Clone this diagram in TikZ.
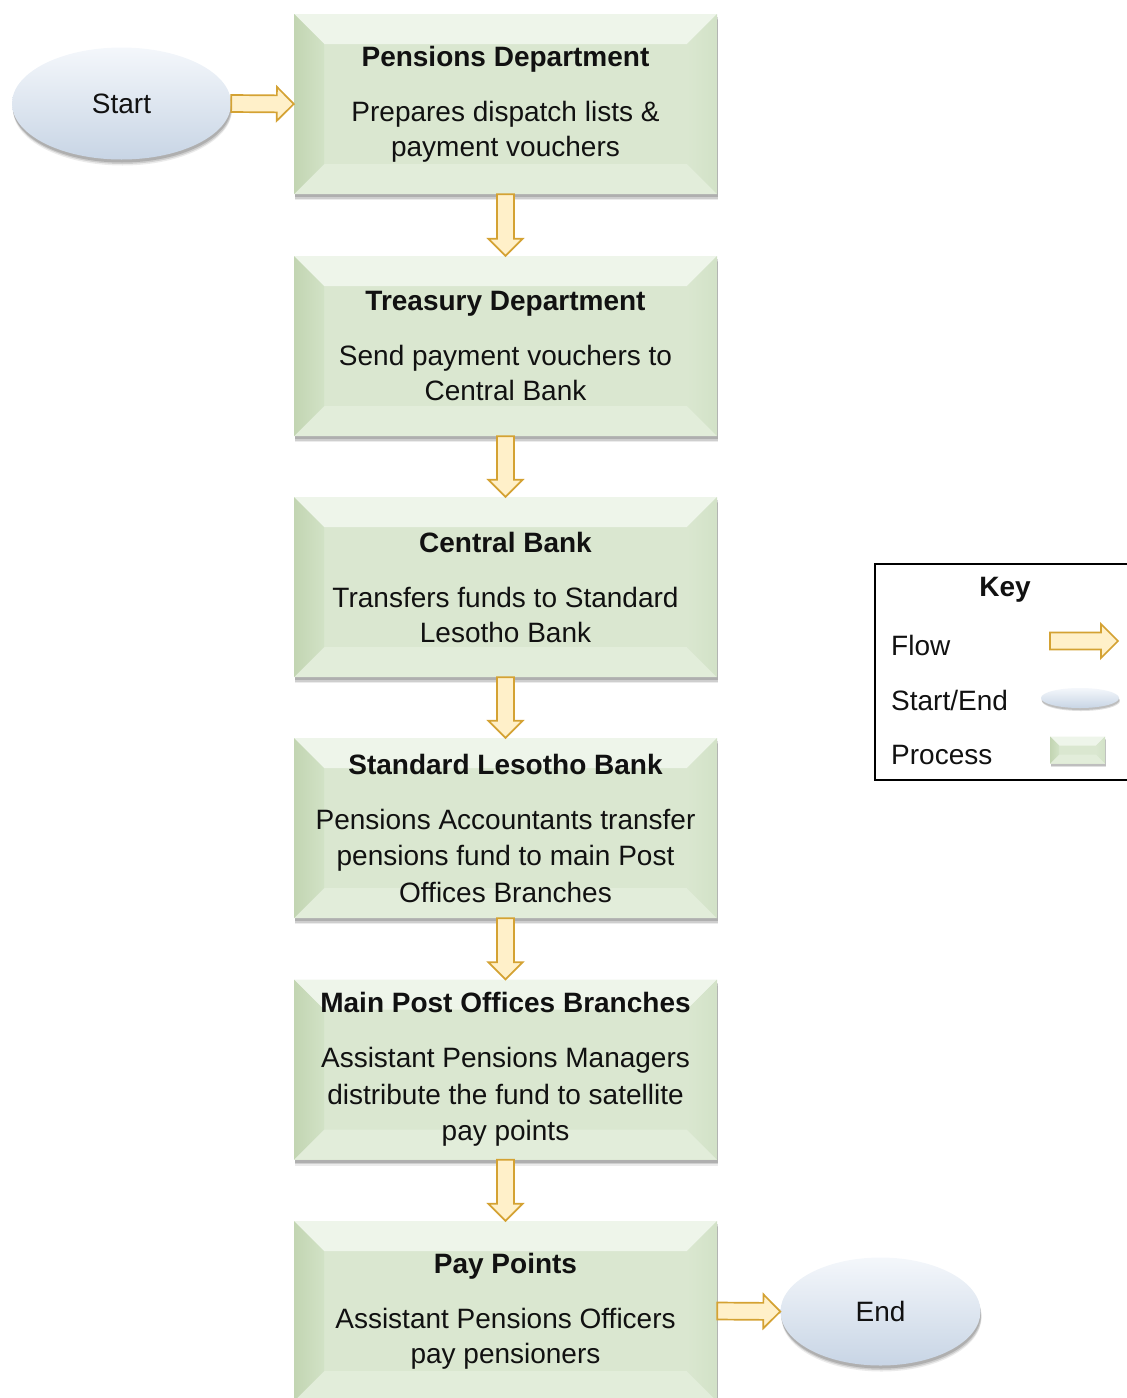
\documentclass[tikz,border=0pt]{standalone}
\usepackage{fontspec}
\setmainfont{Liberation Sans}
\usetikzlibrary{shapes.geometric,shadows,calc}

\definecolor{face}{HTML}{DAE7D0}
\definecolor{bevT}{HTML}{EEF5EA}
\definecolor{bevLo}{HTML}{C2D5B2}
\definecolor{bevLi}{HTML}{D2E2C6}
\definecolor{bevB}{HTML}{E2EDDA}
\definecolor{bevRo}{HTML}{D2E2C7}
\definecolor{bevRi}{HTML}{DAE7D0}
\definecolor{arrFill}{HTML}{FFF0C9}
\definecolor{arrLine}{HTML}{D4A233}
\definecolor{ellT}{HTML}{F4F7FB}
\definecolor{ellM}{HTML}{DCE5F1}
\definecolor{ellB}{HTML}{C8D5E5}
\definecolor{txt}{HTML}{111111}

\newcommand\mybevel[1]{%
  \coordinate (bnw) at (path picture bounding box.north west);
  \coordinate (bne) at (path picture bounding box.north east);
  \coordinate (bsw) at (path picture bounding box.south west);
  \coordinate (bse) at (path picture bounding box.south east);
  \fill[bevT] (bnw) -- (bne) -- ($(bne)+(-#1,#1)$) -- ($(bnw)+(#1,#1)$) -- cycle;
  \fill[bevB] (bsw) -- (bse) -- ($(bse)+(-#1,-#1)$) -- ($(bsw)+(#1,-#1)$) -- cycle;
  \shade[left color=bevLo, right color=bevLi] (bnw) -- (bsw) -- ($(bsw)+(#1,-#1)$) -- ($(bnw)+(#1,#1)$) -- cycle;
  \shade[left color=bevRi, right color=bevRo] (bne) -- (bse) -- ($(bse)+(-#1,-#1)$) -- ($(bne)+(-#1,#1)$) -- cycle;
}

\tikzset{
  softshadow/.style={
    drop shadow={shadow xshift=1pt, shadow yshift=-6pt, fill=black, opacity=0.08},
    drop shadow={shadow xshift=1pt, shadow yshift=-4.5pt, fill=black, opacity=0.12},
    drop shadow={shadow xshift=0.5pt, shadow yshift=-3pt, fill=black, opacity=0.15}},
  smallshadow/.style={
    drop shadow={shadow xshift=1pt, shadow yshift=-3pt, fill=black, opacity=0.12},
    drop shadow={shadow xshift=0.5pt, shadow yshift=-2pt, fill=black, opacity=0.15}},
  proc/.style={rectangle, minimum width=423pt, minimum height=180pt, inner sep=0pt,
    fill=face, softshadow,
    path picture={\mybevel{#1}}, align=center, text=txt,
    font=\fontsize{28}{35}\selectfont},
  term/.style={ellipse, inner sep=0pt, top color=ellT, middle color=ellM, bottom color=ellB,
    softshadow, text=txt, font=\fontsize{28}{35}\selectfont},
  keytext/.style={anchor=west, text=txt, inner sep=0pt, font=\fontsize{28}{35}\selectfont},
  flow/.style={draw=arrLine, fill=arrFill, line width=1.7pt, line join=miter,
    to path={let \p1=(\tikztostart), \p2=(\tikztotarget), \p3=($(\p2)!17pt!(\p1)$) in
      ($(\p1)!8.5pt!90:(\p2)$) -- ($(\p3)!8.5pt!-90:(\p1)$) -- ($(\p3)!17pt!-90:(\p1)$)
      -- (\p2) -- ($(\p3)!17pt!90:(\p1)$) -- ($(\p3)!8.5pt!90:(\p1)$)
      -- ($(\p1)!8.5pt!-90:(\p2)$) -- cycle}},
}

\begin{document}
\begin{tikzpicture}[x=1pt, y=-1pt]
\useasboundingbox (0,0) rectangle (1127,1398);
\clip (0,0) rectangle (1127,1398);

% Start / End
\node[term, minimum width=219pt, minimum height=112pt] (s) at (121.5,103.5) {Start};
\node[term, minimum width=200pt, minimum height=108pt] (e) at (880.5,1311.5) {End};

% Process boxes
\node[proc=30] (p1) at (505.5,104) {\textbf{Pensions Department}\\[20pt]Prepares dispatch lists \&\\payment vouchers};
\node[proc=30] (p2) at (505.5,346) {\textbf{Treasury Department}\\[20pt]Send payment vouchers to\\Central Bank};
\node[proc=30] (p3) at (505.5,587) {\textbf{Central Bank}\\[20pt]Transfers funds to Standard\\Lesotho Bank};
\node[proc=30, font=\fontsize{28}{36.5}\selectfont] (p4) at (505.5,828) {\textbf{Standard Lesotho Bank}\\[18.5pt]Pensions Accountants transfer\\pensions fund to main Post\\Offices Branches};
\node[proc=30, font=\fontsize{28}{36.5}\selectfont] (p5) at (505.5,1069.5) {\textbf{Main Post Offices Branches}\\[18.5pt]Assistant Pensions Managers\\distribute the fund to satellite\\pay points};
\node[proc=30] (p6) at (505.5,1311) {\textbf{Pay Points}\\[20pt]Assistant Pensions Officers\\pay pensioners};

% Flow arrows
\draw[flow] (s.east) to (p1.west);
\draw[flow] (p1.south) to (p2.north);
\draw[flow] (p2.south) to (p3.north);
\draw[flow] (p3.south) to (p4.north);
\draw[flow] (p4.south) to (p5.north);
\draw[flow] (p5.south) to (p6.north);
\draw[flow] (p6.east) to (e.west);

% Key
\node[draw=black, line width=1.3pt, fill=white, minimum width=262pt, minimum height=216pt, inner sep=0pt] (key) at (1006,672) {};
\node[text=txt, font=\bfseries\fontsize{28}{35}\selectfont] (keyt) at (1005,590) {Key};
\node[keytext] (kf) at (891,645) {Flow};
\node[keytext] (ks) at (891,700) {Start/End};
\node[keytext] (kp) at (891,755) {Process};
\coordinate (ka1) at (1050,641);
\coordinate (ka2) at (1118,641);
\draw[flow] (ka1) to (ka2);
\node[ellipse, inner sep=0pt, top color=ellT, middle color=ellM, bottom color=ellB, smallshadow, minimum width=78pt, minimum height=20pt] (kell) at (1080,698) {};
\node[rectangle, inner sep=0pt, fill=face, smallshadow, path picture={\mybevel{9}}, minimum width=55pt, minimum height=27pt] (kproc) at (1077.5,750) {};
\end{tikzpicture}
\end{document}
